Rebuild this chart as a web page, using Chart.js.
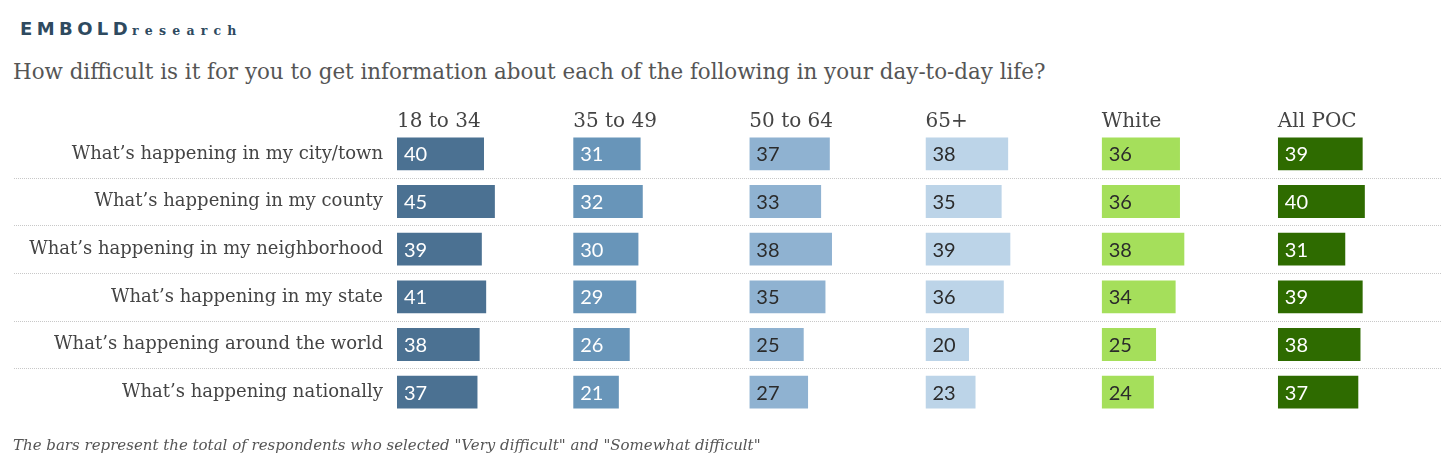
<!DOCTYPE html>
<html>
<head>
<meta charset="utf-8">
<script src="https://cdn.jsdelivr.net/npm/chart.js@4"></script>
<style>
  body { margin: 0; background: #fff; width: 1456px; height: 469px; overflow: hidden; position: relative; }
  #chart { position: absolute; left: 0; top: 0; }
  .logo { position: absolute; left: 20px; top: 18px; color: #2e4a5f; white-space: nowrap; }
  .logo b { font-family: "DejaVu Sans", sans-serif; font-weight: 900; font-size: 18px; letter-spacing: 4.4px; }
  .logo span { font-family: "DejaVu Serif", serif; font-weight: bold; font-size: 12.5px; letter-spacing: 6.2px; }
  .title { position: absolute; left: 13px; top: 59px; font-family: "DejaVu Serif", serif; font-size: 21.4px; color: #555; white-space: nowrap; }
  .note { position: absolute; left: 13px; top: 436px; font-family: "DejaVu Serif", serif; font-style: italic; font-size: 15px; color: #555; white-space: nowrap; }
</style>
</head>
<body>
<div class="logo"><b>EMBOLD</b><span>research</span></div>
<div class="title">How difficult is it for you to get information about each of the following in your day-to-day life?</div>
<canvas id="chart" width="1456" height="469"></canvas>
<div class="note">The bars represent the total of respondents who selected "Very difficult" and "Somewhat difficult"</div>
<script>
const topics = [
    'What’s happening in my city/town',
    'What’s happening in my county',
    'What’s happening in my neighborhood',
    'What’s happening in my state',
    'What’s happening around the world',
    'What’s happening nationally'
];

const groups = ['18 to 34', '35 to 49', '50 to 64', '65+', 'White', 'All POC'];

const age18to34 = [40, 45, 39, 41, 38, 37];
const age35to49 = [31, 32, 30, 29, 26, 21];
const age50to64 = [37, 33, 38, 35, 25, 27];
const age65plus = [38, 35, 39, 36, 20, 23];
const white = [36, 36, 38, 34, 25, 24];
const allPoc = [39, 40, 31, 39, 38, 37];

const seriesValues = [age18to34, age35to49, age50to64, age65plus, white, allPoc];
const barColors = ['#4b7192', '#6895b9', '#8fb2d1', '#bcd4e8', '#a5df5b', '#2e6b00'];
const labelColors = ['#ffffff', '#ffffff', '#2b2b2b', '#2b2b2b', '#2b2b2b', '#ffffff'];

const serif = '"DejaVu Serif", serif';

const scales = {
    y: {
        type: 'category',
        labels: topics,
        border: { display: false },
        grid: { display: false, drawTicks: false },
        ticks: {
            padding: 14,
            color: '#444',
            font: { family: serif, size: 18 }
        },
        afterFit: function(scale) { scale.width = 397; }
    }
};

// one x axis per group, stacked side by side; top boxes are laid out
// in reverse order, so add them last-to-first
for (let i = groups.length - 1; i >= 0; i--) {
    scales['x' + i] = {
        type: 'linear',
        position: 'top',
        stack: 'cols',
        stackWeight: 1,
        min: 0,
        max: 81,
        border: { display: false },
        grid: { display: false, drawTicks: false },
        ticks: { display: false },
        title: {
            display: true,
            text: groups[i],
            align: 'start',
            color: '#444',
            font: { family: serif, size: 20 },
            padding: { top: 5, bottom: -4 }
        }
    };
}

const datasets = seriesValues.map((vals, i) => ({
    label: groups[i],
    data: vals,
    xAxisID: 'x' + i,
    yAxisID: 'y',
    grouped: false,
    backgroundColor: barColors[i],
    borderWidth: 0,
    barPercentage: 0.69,
    categoryPercentage: 1
}));

// dotted separators between rows, spanning the full width
const rowLines = {
    id: 'rowLines',
    beforeDatasetsDraw(chart) {
        const ctx = chart.ctx;
        const y = chart.scales.y;
        ctx.save();
        ctx.strokeStyle = '#c8c8c8';
        ctx.lineWidth = 1;
        ctx.setLineDash([1, 1]);
        for (let i = 1; i < topics.length; i++) {
            const py = Math.round((y.getPixelForValue(i - 1) + y.getPixelForValue(i)) / 2) + 0.5;
            ctx.beginPath();
            ctx.moveTo(14, py);
            ctx.lineTo(1442, py);
            ctx.stroke();
        }
        ctx.restore();
    }
};

// value labels inside the start of each bar
const barValues = {
    id: 'barValues',
    afterDatasetsDraw(chart) {
        const ctx = chart.ctx;
        ctx.save();
        ctx.font = '20px Lato, "Open Sans", sans-serif';
        ctx.textBaseline = 'middle';
        ctx.textAlign = 'left';
        chart.data.datasets.forEach((ds, i) => {
            const meta = chart.getDatasetMeta(i);
            ctx.fillStyle = labelColors[i];
            meta.data.forEach((bar, j) => {
                ctx.fillText(ds.data[j], bar.base + 7, bar.y + 1);
            });
        });
        ctx.restore();
    }
};

new Chart(document.getElementById('chart').getContext('2d'), {
    type: 'bar',
    data: { labels: topics, datasets: datasets },
    options: {
        indexAxis: 'y',
        responsive: false,
        animation: false,
        layout: { padding: { top: 105, bottom: 53, left: 0, right: 2 } },
        scales: scales,
        plugins: {
            legend: { display: false },
            tooltip: { enabled: false }
        }
    },
    plugins: [rowLines, barValues]
});
</script>
</body>
</html>
